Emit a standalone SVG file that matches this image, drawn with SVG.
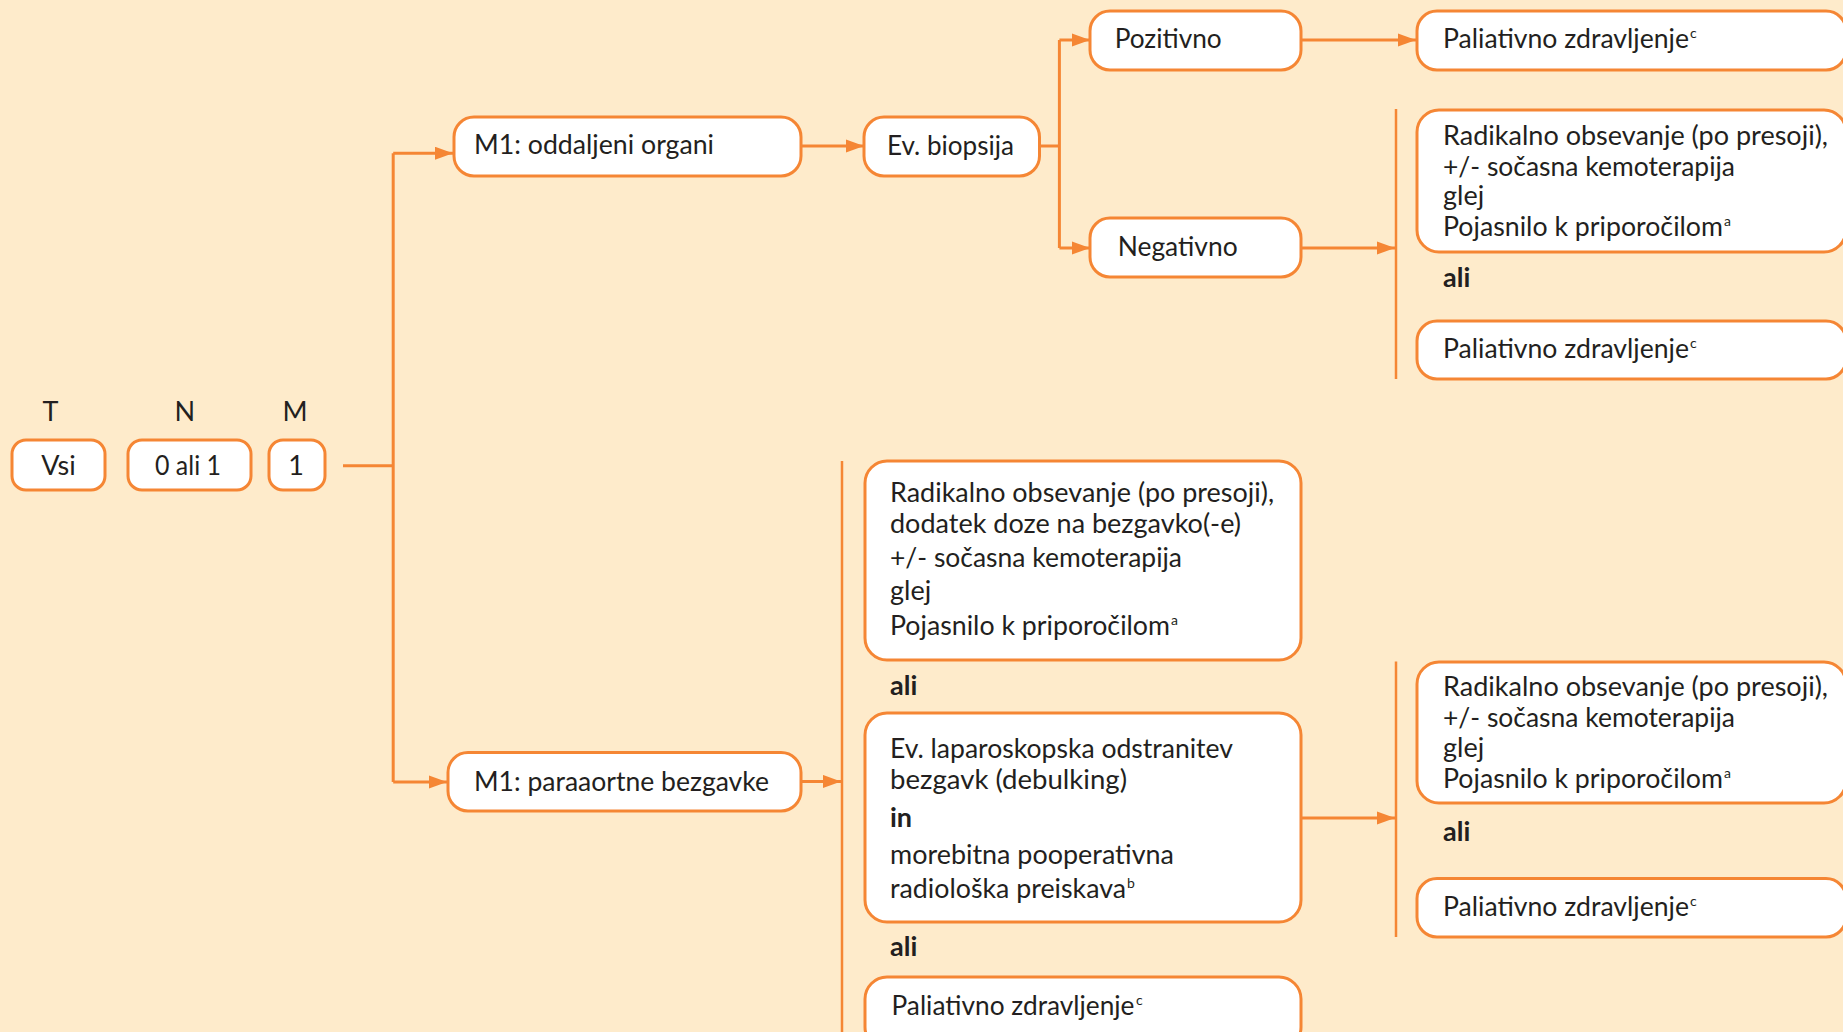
<svg xmlns="http://www.w3.org/2000/svg" width="1843" height="1032" viewBox="0 0 1843 1032">
<defs>
<style>
.bg{fill:#FEEBCB}
.box{fill:#FFFFFF;stroke:#F58634;stroke-width:3}
.ln{fill:none;stroke:#F58634;stroke-width:3}
.bar{fill:none;stroke:#F58634;stroke-width:2.5}
.t{font-family:Lato,"Open Sans","Liberation Sans",sans-serif;font-size:27px;fill:#231F20}
.b{font-weight:700}
.m{text-anchor:middle}
.s{font-family:Lato,"Open Sans","Liberation Sans",sans-serif;font-size:14px;fill:#231F20}
</style>
<marker id="ah" markerUnits="userSpaceOnUse" markerWidth="19" markerHeight="14" refX="18.5" refY="6.75" orient="auto" viewBox="0 0 19 14">
<path d="M0,0 L18.5,6.75 L0,13.5 Z" fill="#F58634"/>
</marker>
</defs>
<rect class="bg" x="0" y="0" width="1843" height="1032"/>

<g id="connectors">
<path class="ln" d="M343,465.7 H393.2"/>
<path class="ln" d="M393.2,153.3 V782"/>
<path class="ln" d="M393.2,153.3 H453" marker-end="url(#ah)"/>
<path class="ln" d="M393.2,782 H447" marker-end="url(#ah)"/>
<path class="ln" d="M801,146 H864" marker-end="url(#ah)"/>
<path class="ln" d="M1039.5,146 H1059.4"/>
<path class="ln" d="M1059.4,40 V248"/>
<path class="ln" d="M1059.4,40 H1090" marker-end="url(#ah)"/>
<path class="ln" d="M1059.4,248 H1090" marker-end="url(#ah)"/>
<path class="ln" d="M1301,40 H1416" marker-end="url(#ah)"/>
<path class="ln" d="M1301,248 H1395" marker-end="url(#ah)"/>
<path class="bar" d="M1396,109 V379"/>
<path class="ln" d="M801,781.5 H841" marker-end="url(#ah)"/>
<path class="bar" d="M842,461 V1032"/>
<path class="ln" d="M1301,818 H1395" marker-end="url(#ah)"/>
<path class="bar" d="M1396,661.6 V937"/>
</g>

<g id="labels-tnm">
<text class="t m" x="50.5" y="420.7">T</text>
<text class="t m" x="184.8" y="420.7">N</text>
<text class="t m" x="295" y="420.7">M</text>
</g>

<g id="node-vsi">
<rect class="box" x="12" y="440" width="93" height="50" rx="14"/>
<text class="t m" x="58.5" y="475">Vsi</text>
</g>
<g id="node-n">
<rect class="box" x="128" y="440" width="123" height="50" rx="14"/>
<text class="t m" x="188" y="475" textLength="66" lengthAdjust="spacingAndGlyphs">0 ali 1</text>
</g>
<g id="node-m">
<rect class="box" x="269" y="440" width="56" height="50" rx="14"/>
<text class="t m" x="296" y="475">1</text>
</g>

<g id="node-m1-organi">
<rect class="box" x="454" y="117" width="347" height="59" rx="20"/>
<text class="t" x="474" y="154" textLength="240" lengthAdjust="spacingAndGlyphs">M1: oddaljeni organi</text>
</g>
<g id="node-biopsija">
<rect class="box" x="864" y="117" width="175.5" height="59" rx="20"/>
<text class="t" x="887" y="155" textLength="127" lengthAdjust="spacingAndGlyphs">Ev. biopsija</text>
</g>
<g id="node-pozitivno">
<rect class="box" x="1090" y="11" width="211" height="59" rx="20"/>
<text class="t" x="1114.7" y="48" textLength="107" lengthAdjust="spacingAndGlyphs">Pozitivno</text>
</g>
<g id="node-negativno">
<rect class="box" x="1090" y="218" width="211" height="59" rx="20"/>
<text class="t" x="1117.7" y="256" textLength="120" lengthAdjust="spacingAndGlyphs">Negativno</text>
</g>
<g id="node-paliativno-1">
<rect class="box" x="1417" y="11" width="429" height="59" rx="20"/>
<text class="t" x="1443" y="48" textLength="246" lengthAdjust="spacingAndGlyphs">Paliativno zdravljenje</text>
<text class="s" x="1690" y="38">c</text>
</g>
<g id="node-radikalno-1">
<rect class="box" x="1417" y="110" width="429" height="142" rx="22"/>
<text class="t" x="1443" y="144.5" textLength="385" lengthAdjust="spacingAndGlyphs">Radikalno obsevanje (po presoji),</text>
<text class="t" x="1443" y="175.5" textLength="292" lengthAdjust="spacingAndGlyphs">+/- sočasna kemoterapija</text>
<text class="t" x="1443" y="205">glej</text>
<text class="t" x="1443" y="235.5" textLength="280" lengthAdjust="spacingAndGlyphs">Pojasnilo k priporočilom</text>
<text class="s" x="1724" y="225.5">a</text>
</g>
<text class="t b" x="1443" y="287">ali</text>
<g id="node-paliativno-2">
<rect class="box" x="1417" y="321" width="429" height="58" rx="20"/>
<text class="t" x="1443" y="358" textLength="246" lengthAdjust="spacingAndGlyphs">Paliativno zdravljenje</text>
<text class="s" x="1690" y="348">c</text>
</g>

<g id="node-m1-paraaortne">
<rect class="box" x="448" y="752.5" width="353" height="58.5" rx="20"/>
<text class="t" x="474" y="791" textLength="295" lengthAdjust="spacingAndGlyphs">M1: paraaortne bezgavke</text>
</g>

<g id="node-radikalno-2">
<rect class="box" x="865" y="461" width="436" height="199" rx="22"/>
<text class="t" x="890" y="502" textLength="384" lengthAdjust="spacingAndGlyphs">Radikalno obsevanje (po presoji),</text>
<text class="t" x="890" y="532.5" textLength="351" lengthAdjust="spacingAndGlyphs">dodatek doze na bezgavko(-e)</text>
<text class="t" x="890" y="567" textLength="292" lengthAdjust="spacingAndGlyphs">+/- sočasna kemoterapija</text>
<text class="t" x="890" y="600">glej</text>
<text class="t" x="890" y="635" textLength="280" lengthAdjust="spacingAndGlyphs">Pojasnilo k priporočilom</text>
<text class="s" x="1171" y="625">a</text>
</g>
<text class="t b" x="890" y="695">ali</text>
<g id="node-laparoskopska">
<rect class="box" x="865" y="713" width="436" height="209" rx="22"/>
<text class="t" x="890" y="758" textLength="343" lengthAdjust="spacingAndGlyphs">Ev. laparoskopska odstranitev</text>
<text class="t" x="890" y="788.5" textLength="237" lengthAdjust="spacingAndGlyphs">bezgavk (debulking)</text>
<text class="t b" x="890" y="827">in</text>
<text class="t" x="890" y="863.5" textLength="284" lengthAdjust="spacingAndGlyphs">morebitna pooperativna</text>
<text class="t" x="890" y="898" textLength="236" lengthAdjust="spacingAndGlyphs">radiološka preiskava</text>
<text class="s" x="1127" y="888">b</text>
</g>
<text class="t b" x="890" y="955.6">ali</text>
<g id="node-paliativno-3">
<rect class="box" x="865" y="977" width="436" height="72" rx="22"/>
<text class="t" x="891.5" y="1015" textLength="243" lengthAdjust="spacingAndGlyphs">Paliativno zdravljenje</text>
<text class="s" x="1136" y="1005">c</text>
</g>

<g id="node-radikalno-3">
<rect class="box" x="1417" y="662" width="429" height="141" rx="22"/>
<text class="t" x="1443" y="696" textLength="385" lengthAdjust="spacingAndGlyphs">Radikalno obsevanje (po presoji),</text>
<text class="t" x="1443" y="726.5" textLength="292" lengthAdjust="spacingAndGlyphs">+/- sočasna kemoterapija</text>
<text class="t" x="1443" y="756.5">glej</text>
<text class="t" x="1443" y="788" textLength="280" lengthAdjust="spacingAndGlyphs">Pojasnilo k priporočilom</text>
<text class="s" x="1724" y="778">a</text>
</g>
<text class="t b" x="1443" y="840.5">ali</text>
<g id="node-paliativno-4">
<rect class="box" x="1417" y="878.5" width="429" height="58.5" rx="20"/>
<text class="t" x="1443" y="916" textLength="246" lengthAdjust="spacingAndGlyphs">Paliativno zdravljenje</text>
<text class="s" x="1690" y="906">c</text>
</g>
</svg>
